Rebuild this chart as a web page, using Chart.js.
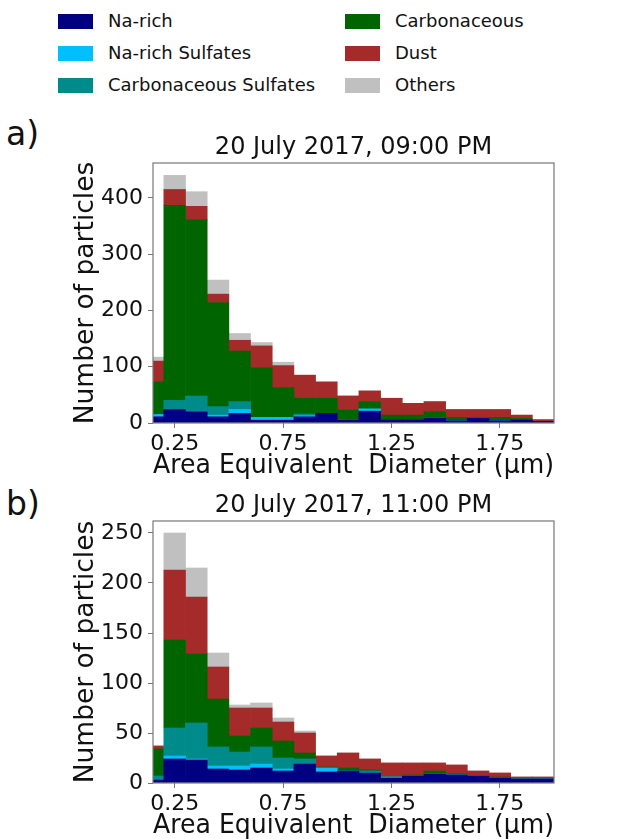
<!DOCTYPE html>
<html>
<head>
<meta charset="utf-8">
<title>Particle size distributions</title>
<script src="https://cdn.jsdelivr.net/npm/chart.js@4.4.0/dist/chart.umd.min.js"></script>
<style>
	body { margin: 0; width: 640px; height: 839px; overflow: hidden; background: #fff; position: relative;
		font-family: 'DejaVu Sans', sans-serif; color: #111; }
	.panel { position: absolute; left: 0; width: 640px; height: 359px; }
	.tag { position: absolute; left: 6px; font-size: 33px; line-height: 1; }
	.leg-box { position: absolute; width: 35px; height: 15px; }
	.leg-txt { position: absolute; font-size: 18px; line-height: 1; white-space: nowrap; }
</style>
</head>
<body>

<div id="legend"></div>
<div class="tag" style="top:117px">a)</div>
<div class="tag" style="top:487px">b)</div>
<div class="panel" style="top:120px"><canvas id="chartA" width="640" height="359"></canvas></div>
<div class="panel" style="top:480px"><canvas id="chartB" width="640" height="359"></canvas></div>

<script>
// centros de los bins (µm), ancho 0.1
const binCenters = [0.15, 0.25, 0.35, 0.45, 0.55, 0.65, 0.75, 0.85, 0.95, 1.05,
	1.15, 1.25, 1.35, 1.45, 1.55, 1.65, 1.75, 1.85, 1.95];
const xTicks = [0.25, 0.75, 1.25, 1.75];
const xTickLabels = ['0.25', '0.75', '1.25', '1.75'];

const seriesNames = ['Na-rich', 'Na-rich Sulfates', 'Carbonaceous Sulfates', 'Carbonaceous', 'Dust', 'Others'];
const seriesColors = ['#000080', '#00bfff', '#008b8b', '#006400', '#a52a2a', '#c0c0c0'];

// a) 20 July 2017, 09:00 PM
const naRichA   = [11, 24, 20, 11, 17, 5, 5, 11, 17, 5, 21, 6, 6, 9, 4, 9, 4, 6, 3];
const naSulfA   = [4, 0, 0, 3, 7, 5, 5, 2, 0, 0, 4, 0, 0, 0, 0, 0, 0, 0, 0];
const carbSulfA = [0, 16, 28, 15, 14, 0, 0, 3, 0, 0, 0, 0, 0, 0, 0, 0, 0, 0, 0];
const carbA     = [58, 347, 313, 185, 90, 88, 53, 28, 27, 18, 13, 8, 8, 11, 6, 1, 6, 2, 0];
const dustA     = [37, 28, 24, 15, 19, 39, 39, 41, 29, 25, 19, 30, 21, 18, 14, 14, 14, 6, 3];
const othersA   = [7, 25, 26, 25, 12, 6, 6, 0, 0, 0, 0, 0, 0, 0, 0, 0, 0, 0, 0];
const yTicksA = [0, 100, 200, 300, 400];

// b) 20 July 2017, 11:00 PM
const naRichB   = [3, 24, 23, 14, 13, 15, 12, 19, 11, 12, 10, 5, 7, 9, 8, 7, 5, 4, 4];
const naSulfB   = [0, 3, 1, 3, 4, 4, 2, 0, 4, 0, 0, 1, 0, 0, 0, 0, 0, 0, 0];
const carbSulfB = [4, 28, 36, 19, 14, 17, 11, 5, 0, 0, 2, 0, 0, 0, 0, 0, 0, 0, 0];
const carbB     = [27, 88, 69, 48, 16, 19, 17, 6, 1, 3, 1, 0, 1, 3, 1, 0, 1, 0, 0];
const dustB     = [3, 70, 57, 32, 28, 20, 19, 20, 11, 15, 11, 14, 12, 8, 9, 5, 4, 2, 2];
const othersB   = [0, 37, 29, 14, 3, 5, 4, 2, 0, 0, 0, 0, 0, 0, 0, 0, 0, 0, 0];
const yTicksB = [0, 50, 100, 150, 200, 250];

Chart.defaults.font.family = "'DejaVu Sans', sans-serif";
Chart.defaults.color = '#111';

// leyenda en dos columnas (orden por columnas como matplotlib)
const legend = document.getElementById('legend');
seriesNames.forEach((name, i) => {
	const col = Math.floor(i / 3), row = i % 3;
	const left = [58, 345][col];
	const cy = [21.5, 53.5, 85.5][row];
	const box = document.createElement('div');
	box.className = 'leg-box';
	box.style.left = left + 'px';
	box.style.top = (cy - 7.5) + 'px';
	box.style.background = seriesColors[i];
	legend.appendChild(box);
	const txt = document.createElement('div');
	txt.className = 'leg-txt';
	txt.style.left = (left + 50) + 'px';
	txt.style.top = (cy - 10) + 'px';
	txt.textContent = name;
	legend.appendChild(txt);
});

// marco completo del area de la grafica
const frame = {
	id: 'frame',
	afterDraw(chart) {
		const { ctx, chartArea: a } = chart;
		ctx.save();
		ctx.strokeStyle = '#777';
		ctx.lineWidth = 1.2;
		ctx.strokeRect(a.left, a.top, a.right - a.left, a.bottom - a.top);
		ctx.restore();
	}
};

function makeDatasets(series) {
	return series.map((arr, i) => ({
		label: seriesNames[i],
		data: binCenters.map((x, k) => ({ x: x, y: arr[k] })),
		backgroundColor: seriesColors[i],
		borderWidth: 0,
		barPercentage: 1,
		categoryPercentage: 1,
		clip: 0
	}));
}

function makeChart(id, title, titleTop, series, yTicks, yMax) {
	return new Chart(document.getElementById(id), {
		type: 'bar',
		data: { datasets: makeDatasets(series) },
		options: {
			responsive: false,
			animation: false,
			layout: { padding: { left: 68, right: 86, top: 0, bottom: 0 } },
			plugins: {
				legend: { display: false },
				tooltip: { enabled: false },
				title: {
					display: true,
					fullSize: false,
					text: title,
					color: '#111',
					font: { size: 24, weight: 'normal', lineHeight: 1.2 },
					padding: { top: titleTop, bottom: 0.6 }
				}
			},
			scales: {
				x: {
					type: 'linear',
					stacked: true,
					offset: false,
					min: 0.15,
					max: 2.0,
					afterBuildTicks: s => { s.ticks = xTicks.map(v => ({ value: v })); },
					afterFit: s => { s.height = 56; },
					ticks: {
						color: '#111',
						font: { size: 22 },
						padding: 3,
						maxRotation: 0,
						callback: (v, i) => xTickLabels[i]
					},
					grid: { offset: false, drawOnChartArea: false, drawTicks: true, tickLength: 5, tickColor: '#777' },
					border: { display: false },
					title: {
						display: true,
						text: 'Area Equivalent  Diameter (µm)',
						color: '#111',
						font: { size: 26.5, lineHeight: 1 },
						padding: { top: 0, bottom: 0 }
					}
				},
				y: {
					stacked: true,
					min: 0,
					max: yMax,
					afterBuildTicks: s => { s.ticks = yTicks.map(v => ({ value: v })); },
					afterFit: s => { s.width = 85; },
					ticks: { color: '#111', font: { size: 22 }, padding: 5 },
					grid: { drawOnChartArea: false, drawTicks: true, tickLength: 5, tickColor: '#777' },
					border: { display: false },
					title: {
						display: true,
						text: 'Number of particles',
						color: '#111',
						font: { size: 26.5, lineHeight: 1.2 },
						padding: { top: 2, bottom: 2 }
					}
				}
			}
		},
		plugins: [frame]
	});
}

makeChart('chartA', '20 July 2017, 09:00 PM', 13.6,
	[naRichA, naSulfA, carbSulfA, carbA, dustA, othersA], yTicksA, 462);
makeChart('chartB', '20 July 2017, 11:00 PM', 11.6,
	[naRichB, naSulfB, carbSulfB, carbB, dustB, othersB], yTicksB, 262);
</script>
</body>
</html>
